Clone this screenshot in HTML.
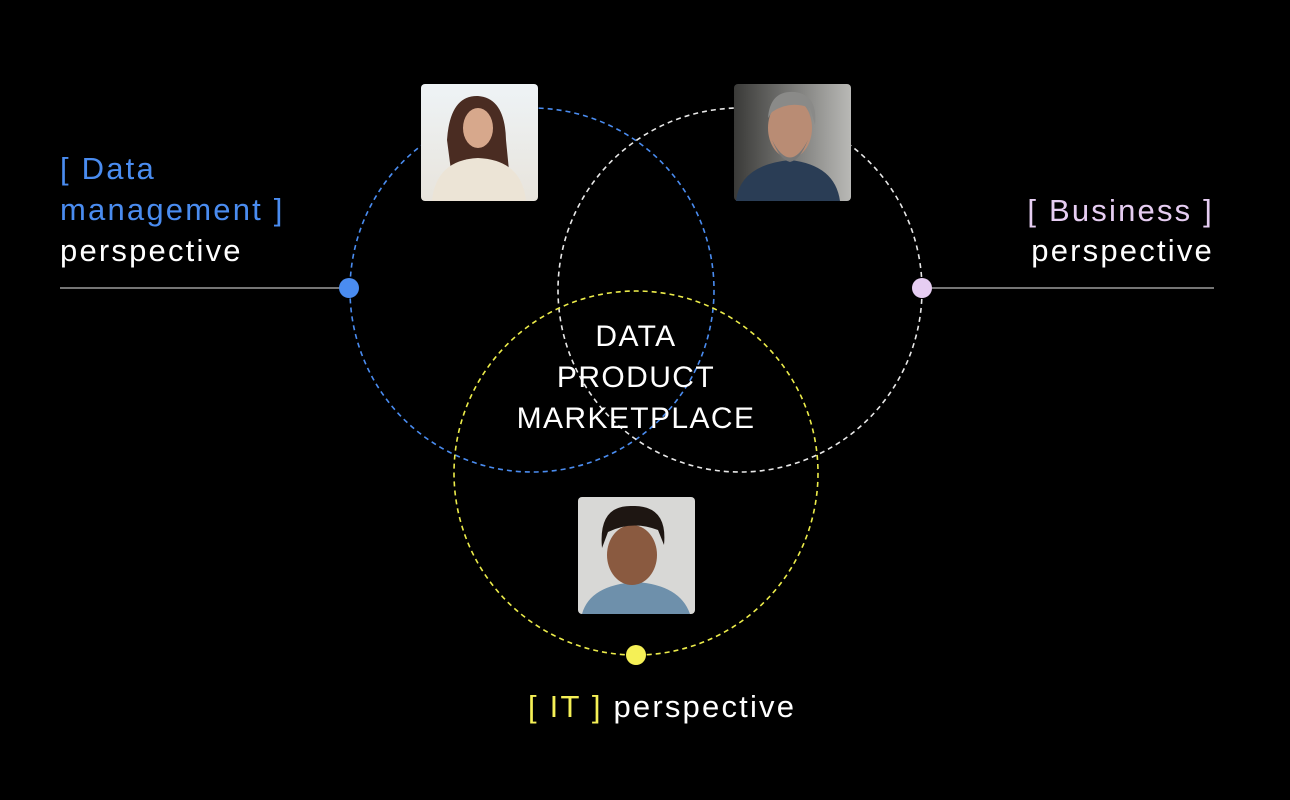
<!DOCTYPE html>
<html><head><meta charset="utf-8"><style>
html,body{margin:0;padding:0;background:#000;}
body{width:1290px;height:800px;position:relative;overflow:hidden;font-family:"Liberation Sans",sans-serif;}
.t{position:absolute;font-size:31px;line-height:41px;color:#fff;white-space:nowrap;letter-spacing:2.2px;}
</style></head><body>
<svg width="1290" height="800" style="position:absolute;left:0;top:0">
<defs>
<linearGradient id="g1" x1="0" y1="0" x2="0" y2="1"><stop offset="0" stop-color="#eef3f6"/><stop offset="1" stop-color="#e8e4dc"/></linearGradient>
<linearGradient id="g2" x1="0" y1="0" x2="1" y2="0"><stop offset="0" stop-color="#3a3a38"/><stop offset="1" stop-color="#b9b9b6"/></linearGradient>
</defs>
<line x1="60" y1="288" x2="350" y2="288" stroke="#bbb" stroke-width="1.2"/>
<line x1="922" y1="288" x2="1214" y2="288" stroke="#bbb" stroke-width="1.2"/>
<circle cx="532" cy="290" r="182" fill="none" stroke="#4a8cf0" stroke-width="1.6" stroke-dasharray="5 4"/>
<circle cx="740" cy="290" r="182" fill="none" stroke="#e8e8e8" stroke-width="1.6" stroke-dasharray="5 4"/>
<circle cx="636" cy="473" r="182" fill="none" stroke="#ecec4a" stroke-width="1.6" stroke-dasharray="5 4"/>
<circle cx="349" cy="288" r="10" fill="#4a8cf0"/>
<circle cx="922" cy="288" r="10" fill="#e6cdf2"/>
<circle cx="636" cy="655" r="10" fill="#f5f056"/>
<rect x="421" y="84" width="117" height="117" rx="4" fill="url(#g1)"/>
<path d="M455 201 L447 140 Q450 95 478 96 Q505 98 506 140 L512 201Z" fill="#4a2c22"/>
<ellipse cx="478" cy="128" rx="15" ry="20" fill="#d7a88c"/>
<path d="M432 201 Q436 160 478 158 Q522 160 526 201Z" fill="#ece4d6"/>
<rect x="734" y="84" width="117" height="117" rx="4" fill="url(#g2)"/>
<path d="M736 201 Q740 165 790 160 Q835 165 840 201Z" fill="#2a3d55"/>
<ellipse cx="790" cy="128" rx="22" ry="30" fill="#b98c74"/>
<path d="M768 118 Q770 90 795 92 Q818 95 815 125 L810 108 Q790 100 772 112Z" fill="#8a8a88"/>
<path d="M772 140 Q790 175 808 140 Q800 160 790 162Q780 160 772 140Z" fill="#777"/>
<rect x="578" y="497" width="117" height="117" rx="4" fill="#d8d8d6"/>
<path d="M582 614 Q590 585 636 582 Q680 585 690 614Z" fill="#6e90ab"/>
<ellipse cx="632" cy="555" rx="25" ry="30" fill="#8a5a40"/>
<path d="M602 548 Q598 505 632 506 Q668 505 664 545 L658 530 Q632 520 608 532Z" fill="#1e1612"/>
</svg>
<div class="t" style="left:60px;top:148px;color:#4a8cf0">[ Data<br>management ]</div>
<div class="t" style="left:60px;top:230px">perspective</div>
<div class="t" style="right:76px;top:190px;color:#e6cdf2;text-align:right">[ Business ]</div>
<div class="t" style="right:76px;top:230px;text-align:right">perspective</div>
<div class="t" style="left:528px;top:686px"><span style="color:#f5f056">[ IT ]</span> perspective</div>
<div class="t" style="left:480px;width:312px;top:316px;text-align:center;font-size:30px;letter-spacing:1.4px">DATA<br>PRODUCT<br>MARKETPLACE</div>
</body></html>
